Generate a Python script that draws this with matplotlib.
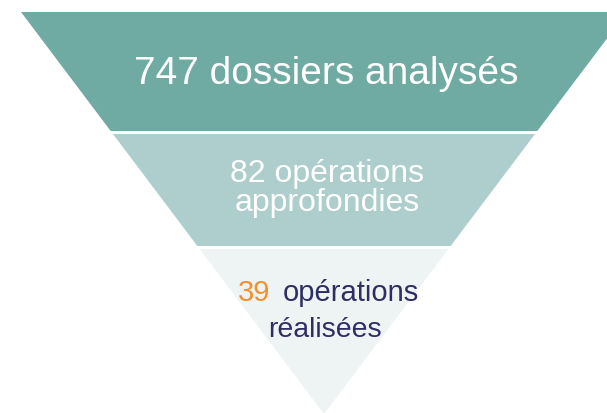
import matplotlib.pyplot as plt
from matplotlib.patches import Polygon

plt.rcParams['font.family'] = ['Liberation Sans', 'DejaVu Sans']

# funnel stages (top to bottom)
stage_values = [747, 82, 39]
stage_texts = ['dossiers analysés', 'opérations\napprofondies', 'opérations\nréalisées']
band_colors = ['#6faaa3', '#adcecc', '#eef4f4']

# geometry in pixel units
W, H = 607, 413
CX, TOP, APEX, HALF_TOP = 324, 12, 414, 303
band_edges = [(12, 131), (134, 246), (249, 414)]


def half_width(y):
    return HALF_TOP * (APEX - y) / (APEX - TOP)


fig = plt.figure(figsize=(W / 100, H / 100), dpi=100)
ax = fig.add_axes([0, 0, 1, 1])
ax.set_xlim(0, W)
ax.set_ylim(H, 0)
ax.axis('off')

for (y0, y1), color in zip(band_edges, band_colors):
    w0, w1 = half_width(y0), half_width(y1)
    pts = [(CX - w0, y0), (CX + w0, y0), (CX + w1, y1), (CX - w1, y1)]
    ax.add_patch(Polygon(pts, closed=True, facecolor=color, edgecolor='none'))

# stage 1
ax.text(326, 84, f'{stage_values[0]} {stage_texts[0]}', color='white',
        fontsize=28, ha='center', va='baseline')

# stage 2
line1, line2 = stage_texts[1].split('\n')
ax.text(327, 182, f'{stage_values[1]} {line1}', color='white',
        fontsize=23, ha='center', va='baseline')
ax.text(327, 211, line2, color='white', fontsize=23, ha='center', va='baseline')

# stage 3
line1, line2 = stage_texts[2].split('\n')
ax.text(270, 301, f'{stage_values[2]}', color='#f28f2e', fontsize=21,
        ha='right', va='baseline')
ax.text(283, 301, line1, color='#2d2e63', fontsize=21, ha='left', va='baseline')
ax.text(325, 337, line2, color='#2d2e63', fontsize=20.5, ha='center', va='baseline')

fig.savefig('out.png', dpi=100)
